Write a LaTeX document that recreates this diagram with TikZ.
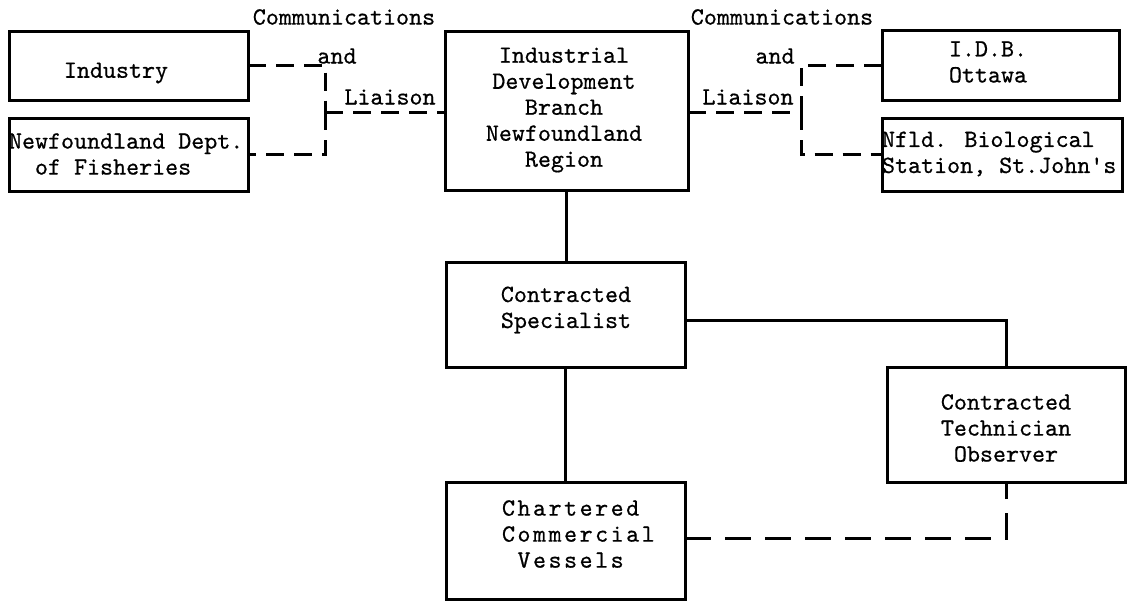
\documentclass[tikz,border=0pt]{standalone}
\usepackage{fontspec}
\newfontfamily\twfont{lmmono10-regular.otf}[FakeBold=0.6]
\newfontfamily\chartfont{lmmono10-regular.otf}[LetterSpace=10.1,FakeBold=0.6]
\begin{document}
\begin{tikzpicture}[x=0.5pt,y=-0.5pt,
  every node/.style={inner sep=0pt, outer sep=0pt},
  tw/.style={font=\twfont\fontsize{12.4}{13}\selectfont},
  twwide/.style={font=\chartfont\fontsize{12.4}{13}\selectfont},
  box/.style={draw, line width=1.5pt},
  conn/.style={line width=1.5pt},
  dsh/.style={line width=1.5pt, dash pattern=on 9pt off 5pt},
  dshb/.style={line width=1.5pt, dash pattern=on 13pt off 7pt}]
\useasboundingbox (0,0) rectangle (1128,602);
% boxes
\node[box, minimum width=119.5pt, minimum height=34.5pt] (ind) at (128.5,65.5) {};
\node[box, minimum width=119.5pt, minimum height=36.5pt] (nfd) at (128.5,154.5) {};
\node[box, minimum width=121.5pt, minimum height=79.5pt] (idb) at (566.5,110.5) {};
\node[box, minimum width=118.5pt, minimum height=35pt] (ott) at (1000.5,65) {};
\node[box, minimum width=120pt, minimum height=36.5pt] (bio) at (1002,154.5) {};
\node[box, minimum width=119.5pt, minimum height=52.5pt] (spec) at (565.5,314.5) {};
\node[box, minimum width=119pt, minimum height=57.5pt] (tech) at (1006,424.5) {};
\node[box, minimum width=119.5pt, minimum height=58.5pt] (chart) at (565.5,540.5) {};
% box texts
\node[tw] (indt) at (116,73) {Industry};
\node[tw, anchor=west, align=left] (nfdt) at (9,154) {Newfoundland Dept.\\\hspace*{13pt}of Fisheries};
\node[tw, align=center] (idbt) at (564,110) {Industrial\\Development\\Branch\\Newfoundland\\Region};
\node[tw, align=center] (ottt) at (988,62) {I.D.B.\\Ottawa};
\node[tw, anchor=west, align=left] (biot) at (882,154) {Nfld. Biological\\Station, St.John's};
\node[tw, align=center] (spect) at (566,310) {Contracted\\Specialist};
\node[tw, align=center] (techt) at (1006,428) {Contracted\\Technician\\Observer};
\node[twwide, anchor=west, align=left] (chartt) at (502,534) {Chartered\\Commercial\\\hspace*{7.75pt}Vessels};
% labels
\node[tw] (comm1) at (344,17) {Communications};
\node[tw] (and1) at (337,56) {and};
\node[tw] (lia1) at (390,97) {Liaison};
\node[tw] (comm2) at (782,17) {Communications};
\node[tw] (and2) at (775,56) {and};
\node[tw] (lia2) at (748,97) {Liaison};
% connectors
\coordinate (jl) at (325,112);
\coordinate (jr) at (801,112);
\draw[dsh] (ind.east) -| (jl);
\draw[dsh] (jl) |- (nfd.east);
\draw[dsh] (jl) -- (jl -| idb.west);
\draw[dsh] (jr -| idb.east) -- (jr);
\draw[dsh] (ott.west) -| (jr);
\draw[dsh] (jr) |- (bio.west);
\draw[conn] (idb.south) -- (idb.south |- spec.north);
\draw[conn] (spec.south) -- (chart.north);
\draw[conn] ([yshift=-2.75pt]spec.east) -| (tech.north);
\draw[dshb] ([yshift=1.25pt]chart.east) -| (tech.south);
\end{tikzpicture}
\end{document}
